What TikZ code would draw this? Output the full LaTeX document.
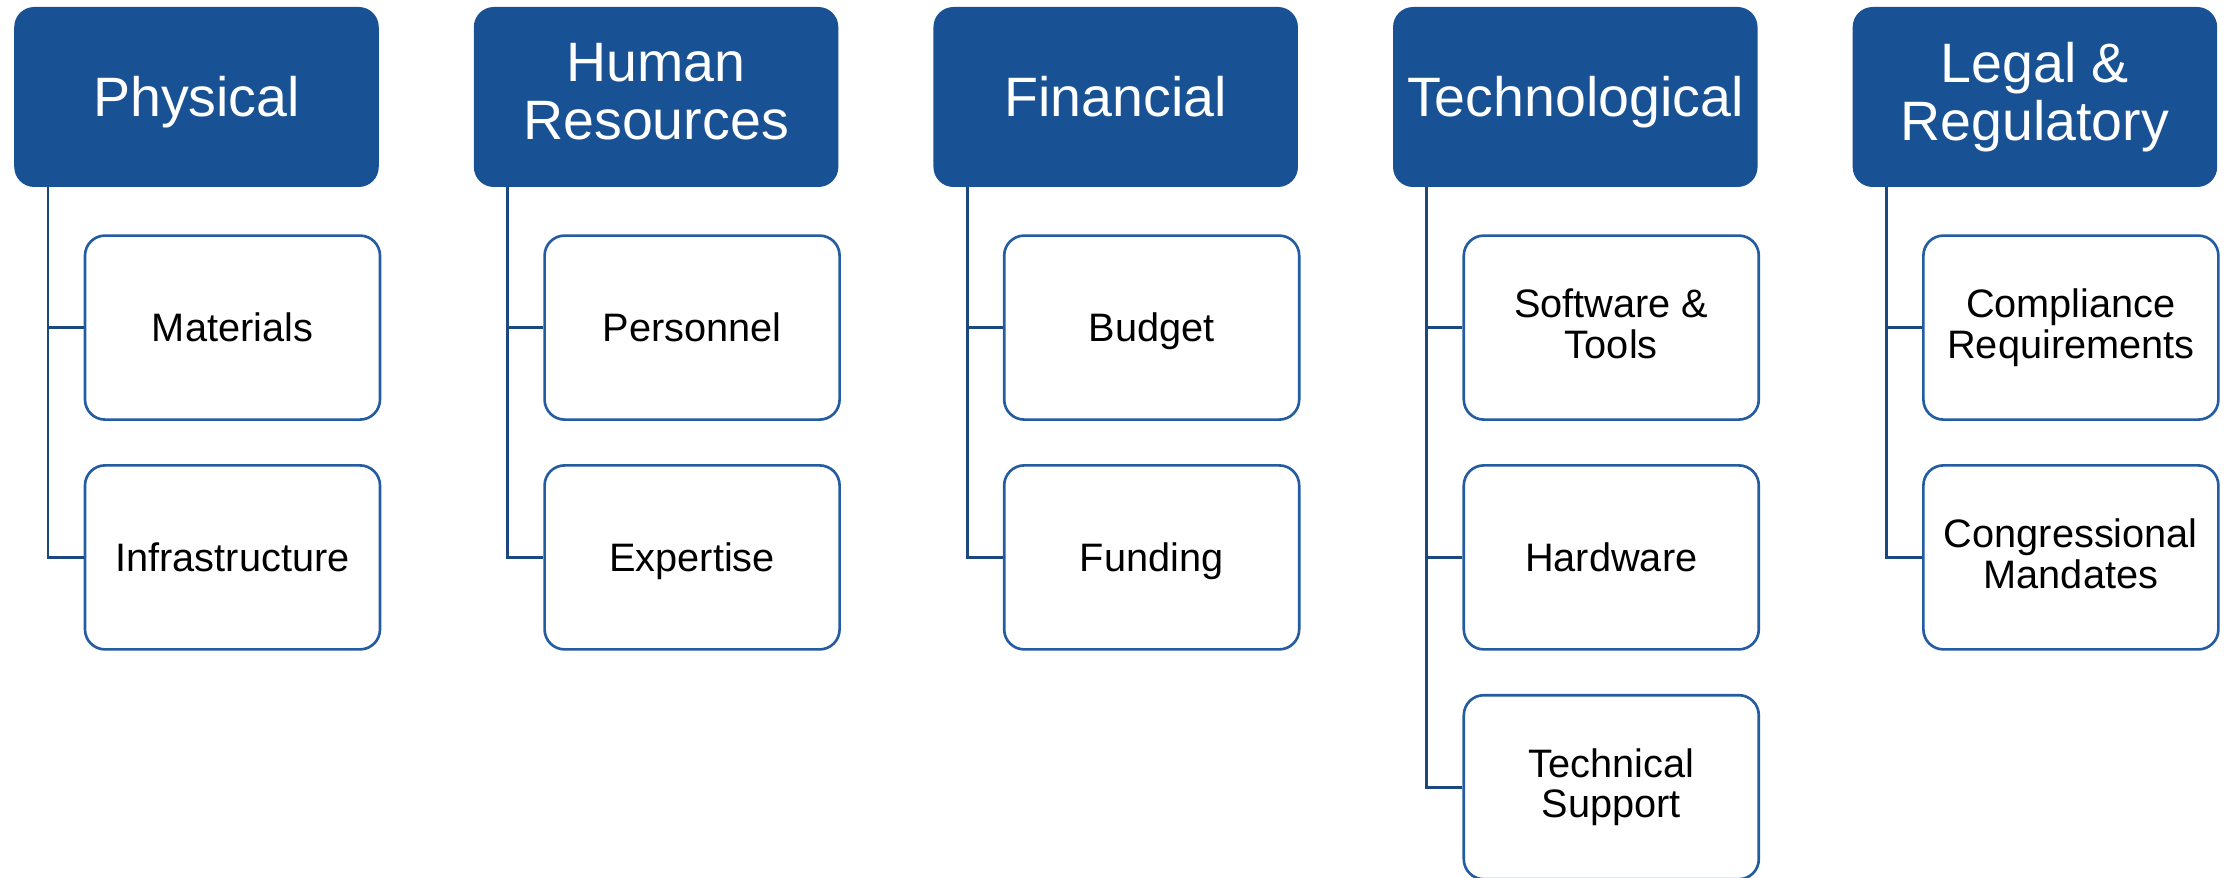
\documentclass[tikz,border=0pt]{standalone}
\usepackage{fontspec}
\setmainfont{Liberation Sans}
\definecolor{resblue}{RGB}{24,82,148}
\definecolor{itemblue}{RGB}{36,92,162}
\definecolor{linkblue}{RGB}{28,72,128}
\newcommand\topstrut{\rule{0pt}{0.9em}}
\newcommand\botstrut{\rule[-0.2em]{0pt}{0.2em}}

\begin{document}
\begin{tikzpicture}

\tikzset{header/.style = {shape=rectangle, rounded corners=0.2cm, fill=resblue, text=white,
  minimum width=3.645cm, minimum height=1.8cm, inner sep=0pt, align=center,
  execute at begin node=\topstrut, execute at end node=\botstrut,
  font=\fontsize{15.8pt}{16.5pt}\selectfont}}
\tikzset{item/.style = {shape=rectangle, rounded corners=0.2cm, draw=itemblue, line width=0.75pt, fill=white,
  minimum width=2.95cm, minimum height=1.84cm, inner sep=0pt, align=center,
  execute at begin node=\topstrut, execute at end node=\botstrut,
  font=\fontsize{11.3pt}{11.5pt}\selectfont}}
\tikzset{link/.style = {draw=linkblue, line width=0.8pt}}
\useasboundingbox (0,0) rectangle (22.24,-8.78);
%headers
\node[header] (physical) at (1.965,-0.97) {Physical};
\node[header] (human) at (6.561,-0.97) {Human\\Resources};
\node[header] (financial) at (11.157,-0.97) {Financial};
\node[header] (technological) at (15.753,-0.97) {Technological};
\node[header] (legal) at (20.349,-0.97) {Legal \&\\Regulatory};
%items
\node[item] (materials) at (2.325,-3.276) {Materials};
\node[item] (infrastructure) at (2.325,-5.574) {Infrastructure};
\node[item] (personnel) at (6.921,-3.276) {Personnel};
\node[item] (expertise) at (6.921,-5.574) {Expertise};
\node[item] (budget) at (11.517,-3.276) {Budget};
\node[item] (funding) at (11.517,-5.574) {Funding};
\node[item] (software) at (16.113,-3.276) {Software \&\\Tools};
\node[item] (hardware) at (16.113,-5.574) {Hardware};
\node[item] (support) at (16.113,-7.872) {Technical\\Support};
\node[item] (compliance) at (20.709,-3.276) {Compliance\\Requirements};
\node[item] (mandates) at (20.709,-5.574) {Congressional\\Mandates};
%trunks
\coordinate (ptrunk) at (0.48,-1.87);
\coordinate (htrunk) at (5.076,-1.87);
\coordinate (ftrunk) at (9.672,-1.87);
\coordinate (ttrunk) at (14.268,-1.87);
\coordinate (ltrunk) at (18.864,-1.87);
\draw [link] (ptrunk) |- (materials.west);
\draw [link] (ptrunk) |- (infrastructure.west);
\draw [link] (htrunk) |- (personnel.west);
\draw [link] (htrunk) |- (expertise.west);
\draw [link] (ftrunk) |- (budget.west);
\draw [link] (ftrunk) |- (funding.west);
\draw [link] (ttrunk) |- (software.west);
\draw [link] (ttrunk) |- (hardware.west);
\draw [link] (ttrunk) |- (support.west);
\draw [link] (ltrunk) |- (compliance.west);
\draw [link] (ltrunk) |- (mandates.west);

\end{tikzpicture}
\end{document}
